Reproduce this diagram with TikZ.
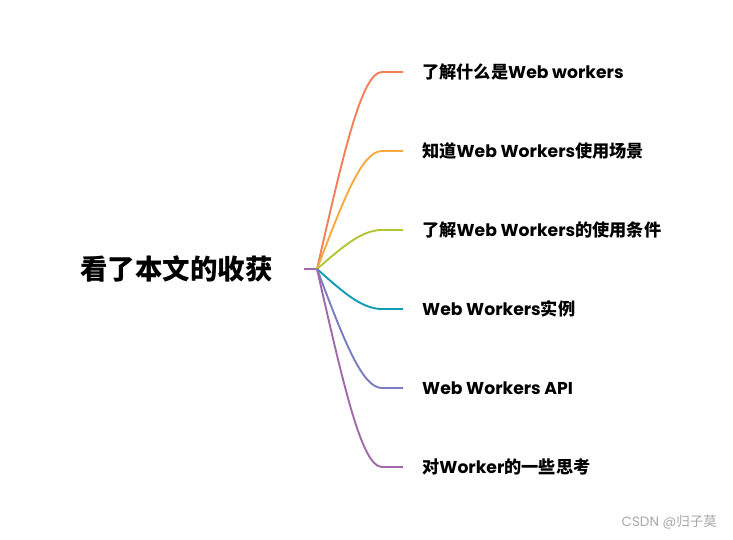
\documentclass[tikz,border=0pt]{standalone}
\usepackage{fontspec}
\setmainfont{Poppins}
\newfontfamily\cjk{Noto Sans CJK SC}
\newfontfamily\lat{Poppins}
\usetikzlibrary{calc}
\definecolor{c1}{HTML}{F37E58}
\definecolor{c2}{HTML}{F8AA3F}
\definecolor{c3}{HTML}{B2C532}
\definecolor{c4}{HTML}{0E9DB5}
\definecolor{c5}{HTML}{7A7CC2}
\definecolor{c6}{HTML}{A06AAA}
\definecolor{wm}{HTML}{A8A8A8}
\begin{document}
\begin{tikzpicture}[x=1pt,y=-1pt,
  branch/.style={line width=1.9pt},
  lbl/.style={anchor=west,inner sep=0pt,font=\fontsize{17.2}{19}\selectfont\bfseries},
  root/.style={inner sep=0pt,font=\cjk\fontsize{27.5}{29}\selectfont\bfseries}]
\useasboundingbox (0,0) rectangle (733,539);
\node[root] (title) at (176.5,269) {看了本文的收获};
\coordinate (stub) at (304,269);
\coordinate (hub) at (317,269);
\draw[branch,c6] (stub) -- (hub);
\foreach \i/\y/\txt in {
  1/72/{{\cjk 了解什么是}Web workers},
  2/151/{{\cjk 知道}Web Workers{\cjk 使用场景}},
  3/230/{{\cjk 了解}Web Workers{\cjk 的使用条件}},
  4/309/{Web Workers{\cjk 实例}},
  5/388/{Web Workers API},
  6/467/{{\cjk 对}Worker{\cjk 的一些思考}}}{
  \coordinate (k\i) at (362,\y);
  \coordinate (e\i) at (382,\y);
  \coordinate (t\i) at (403,\y);
  \node[lbl] (n\i) at (422,\y) {\txt};
  \draw[branch,c\i] (hub) .. controls ($(hub)!0.6!(k\i)$) and (k\i) .. (e\i) -- (t\i);
}
\node[anchor=east,inner sep=0pt,text=wm,font=\fontsize{13.5}{15}\selectfont] (wmk) at (717,522) {CSDN @{\cjk 归子莫}};
\end{tikzpicture}
\end{document}
